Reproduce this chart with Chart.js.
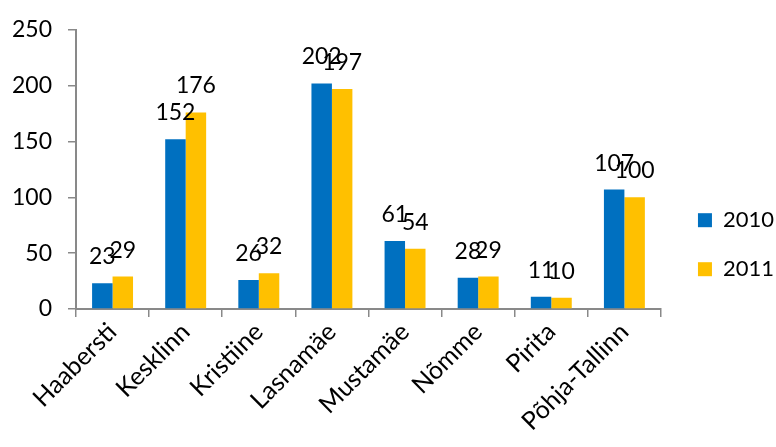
<!DOCTYPE html>
<html>
<head>
<meta charset="utf-8">
<script src="https://cdn.jsdelivr.net/npm/chart.js@4/dist/chart.umd.min.js"></script>
<style>
  html,body{margin:0;padding:0;background:#fff;}
  #wrap{width:776px;height:447px;}
</style>
</head>
<body>
<div id="wrap"><canvas id="c"></canvas></div>
<script>
// ====== dados ======
const districts = ["Haabersti","Kesklinn","Kristiine","Lasnamäe","Mustamäe","Nõmme","Pirita","Põhja-Tallinn"];
const y2010 = [23, 152, 26, 202, 61, 28, 11, 107];
const y2011 = [29, 176, 32, 197, 54, 29, 10, 100];
const yTicks = [0, 50, 100, 150, 200, 250];

const font = "Lato, 'Open Sans', sans-serif";
const axisGrey = '#898989';

// rótulos por cima das barras
const valueLabels = {
  id: 'valueLabels',
  afterDatasetsDraw(chart) {
    const ctx = chart.ctx;
    ctx.save();
    ctx.font = `23px ${font}`;
    ctx.fillStyle = '#000';
    ctx.textAlign = 'center';
    ctx.textBaseline = 'alphabetic';
    chart.data.datasets.forEach((ds, i) => {
      chart.getDatasetMeta(i).data.forEach((bar, j) => {
        ctx.fillText(ds.data[j], bar.x, bar.y - 19);
      });
    });
    ctx.restore();
  }
};

// empurra a legenda um pouco para a direita (como no original)
const legendShift = {
  id: 'legendShift',
  afterLayout(chart) {
    const lg = chart.legend;
    if (lg) { lg.left += 10; lg.right += 10; }
  }
};

new Chart(document.getElementById('c'), {
  type: 'bar',
  data: {
    labels: districts,
    datasets: [
      { label: '2010', data: y2010, backgroundColor: '#0070C0', categoryPercentage: 0.56, barPercentage: 1 },
      { label: '2011', data: y2011, backgroundColor: '#FFC000', categoryPercentage: 0.56, barPercentage: 1 }
    ]
  },
  options: {
    responsive: true,
    maintainAspectRatio: false,
    animation: false,
    layout: { autoPadding: false, padding: { top: 20, left: 10, right: 2, bottom: 0 } },
    scales: {
      x: {
        afterFit: axis => { axis.height = 138; axis.paddingLeft = 0; axis.paddingRight = 0; },
        grid: { display: true, drawOnChartArea: false, drawTicks: true, tickLength: 8, color: axisGrey, lineWidth: 1.5 },
        border: { color: axisGrey, width: 2 },
        ticks: { color: '#000', font: { family: font, size: 25 }, maxRotation: 45, minRotation: 45, padding: 0 }
      },
      y: {
        min: 0, max: 250,
        afterFit: axis => { axis.width = 66; },
        afterBuildTicks: axis => { axis.ticks = yTicks.map(v => ({ value: v })); },
        grid: { display: true, drawOnChartArea: false, drawTicks: true, tickLength: 8, color: axisGrey, lineWidth: 1.5 },
        border: { color: axisGrey, width: 2 },
        ticks: { color: '#000', font: { family: font, size: 23 }, padding: 16 }
      }
    },
    plugins: {
      legend: {
        position: 'right',
        title: { display: true, text: ' ', padding: 4, font: { size: 12 } },
        labels: { color: '#000', font: { family: font, size: 22 }, boxWidth: 14, boxHeight: 14, padding: 27 }
      },
      tooltip: { enabled: false }
    }
  },
  plugins: [valueLabels, legendShift]
});
</script>
</body>
</html>
